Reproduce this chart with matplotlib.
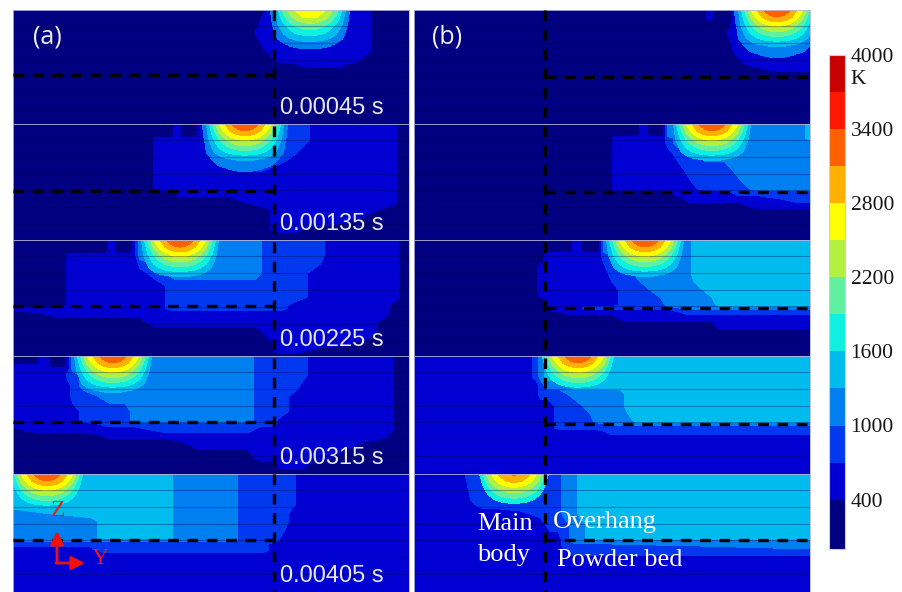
import numpy as np
import matplotlib
matplotlib.use('Agg')
import matplotlib.pyplot as plt
from matplotlib.colors import ListedColormap, BoundaryNorm

# temperature bands of the legend, K
levels = [0, 400, 700, 1000, 1300, 1600, 1900, 2200, 2500, 2800, 3100, 3400, 3700, 4000]
band_colors = ['#000080', '#0000d2', '#0038f0', '#0080f0', '#00bcee', '#10f0e0', '#60f0a0',
               '#b4f040', '#ffff00', '#ffb000', '#ff6000', '#ff1800', '#c80000']
tick_values = [400, 1000, 1600, 2200, 2800, 3400, 4000]
times = ['0.00045 s', '0.00135 s', '0.00225 s', '0.00315 s', '0.00405 s']

# representative temperature of the letters used in the field tables below
band_temp = {'N': 250, 'D': 550, 'B': 850, 'M': 1150, 'L': 1450}

# melt pool, half table: depth rows, distance from centre columns
pool_dx = [0, 7, 14, 20, 26, 32, 38, 44]
pool_dz = [0, 7, 14, 21, 28, 35, 42, 50]
pool_half = [[3390, 3300, 3100, 2800, 2500, 1950, 1350, 900],
             [3100, 3050, 2850, 2600, 2250, 1750, 1250, 850],
             [2650, 2600, 2450, 2250, 1950, 1600, 1200, 800],
             [2250, 2200, 2100, 1900, 1700, 1400, 1100, 700],
             [1800, 1780, 1700, 1600, 1450, 1250, 1050, 600],
             [1350, 1340, 1300, 1250, 1150, 1050, 800, 500],
             [1120, 1110, 1090, 1050, 1000, 850, 600, 400],
             [950, 940, 900, 800, 700, 550, 400, 300]]

a1_x = [13, 250, 260, 270, 280, 310, 340, 355, 366, 378, 409]
a1_z = [0, 23, 40, 50, 54, 62, 114]
a1_rows = ['NNNDDDDDDNN', 'NNDDDDDDDNN', 'NNNDDDDDDNN', 'NNNNDDDDNNN', 'NNNNNDDNNNN',
           'N' * 11, 'N' * 11]

a2_x = [13, 150, 156, 171, 175, 179, 183, 195, 199, 203, 209, 228, 260, 280, 295, 306, 314, 362, 392, 404, 409]
a2_z = [0, 11, 15, 25, 36, 44, 52, 66, 68, 78, 86, 100, 106, 111, 116]
a2_rows = ['NNNNDDNNDDBBBBBBDDDNN', 'NNNNDDNNDDBBBBBBDDDNN', 'NNDDDDDDDDBBBBBBDDDNN',
           'NNDDDDDDDDBBBBBDDDDNN', 'NNDDDDDDDDDBBBDDDDDNN', 'NNDDDDDDDDDDBDDDDDDNN',
           'NNDDDDDDDDDDDDDDDDDNN', 'NNDDDDDDDDDDDDDDDDDNN', 'NNNNNDDDDDDDDDDDDDDNN',
           'NNNNNNNNNNNNDDDDDDDNN', 'NNNNNNNNNNNNNDDDDDNNN', 'NNNNNNNNNNNNNDDDDNNNN',
           'NNNNNNNNNNNNNDDNNNNNN', 'N' * 21, 'N' * 21]

a3_x = [13, 62, 70, 105, 109, 113, 117, 130, 134, 140, 155, 175, 225, 255, 268, 280, 295, 320, 330, 370, 385, 395, 402, 409]
a3_z = [0, 11, 15, 33, 45, 57, 65, 68, 72, 82, 90, 103, 110, 115]
a3_rows = ['NNNNDDNNDMMMMMBBBBDDDDNN', 'NNNNDDNNDMMMMMBBBBDDDDNN',
           'NN' + 'D' * 7 + 'M' * 5 + 'B' * 4 + 'D' * 4 + 'NN',
           'NN' + 'D' * 8 + 'B' + 'MMM' + 'BBB' + 'D' * 5 + 'NN',
           'NN' + 'D' * 9 + 'B' * 6 + 'D' * 5 + 'NN',
           'NN' + 'D' * 9 + 'B' * 6 + 'D' * 5 + 'NN',
           'NN' + 'D' * 9 + 'B' * 5 + 'D' * 5 + 'NNN',
           'D' * 11 + 'B' * 5 + 'D' * 5 + 'NNN',
           'N' + 'D' * 20 + 'NNN',
           'N' * 10 + 'D' * 10 + 'N' * 4,
           'N' * 14 + 'D' * 6 + 'N' * 4,
           'N' * 15 + 'D' * 4 + 'N' * 5,
           'N' * 15 + 'D' * 2 + 'N' * 7,
           'N' * 24]

a4_x = [13, 36, 40, 48, 52, 64, 68, 73, 85, 110, 125, 135, 165, 200, 248, 260, 272, 282, 296, 303, 312, 345, 385, 391, 396, 409]
a4_z = [0, 7, 10, 13, 19, 30, 40, 55, 65, 68, 74, 79, 86, 102, 109, 118]
a4_rows = ['NNDDNNDMMMMMMMMBBBBBDDDDNN', 'NNDDNNDMMMMMMMMBBBBBDDDDNN', 'DDDDNNDMMMMMMMMBBBBBDDDDNN',
           'DDDDDDDMMMMMMMMBBBBBDDDDNN',
           'DDDDDDBB' + 'M' * 7 + 'BBBBB' + 'DDDD' + 'NN',
           'DDDDDDD' + 'B' + 'M' * 7 + 'BBBB' + 'DDDDD' + 'NN',
           'DDDDDDD' + 'BB' + 'M' * 6 + 'BBB' + 'D' * 6 + 'NN',
           'D' * 8 + 'BBB' + 'MMMM' + 'BBB' + 'D' * 6 + 'NN',
           'D' * 8 + 'BBB' + 'MMMM' + 'BB' + 'D' * 7 + 'NN',
           'D' * 9 + 'B' * 8 + 'D' * 7 + 'NN',
           'N' + 'D' * 11 + 'BBB' + 'D' * 9 + 'NN',
           'N' * 9 + 'D' * 14 + 'NNN',
           'N' * 13 + 'D' * 9 + 'N' * 4,
           'N' * 15 + 'D' * 6 + 'N' * 5,
           'N' * 17 + 'DDD' + 'N' * 6,
           'N' * 26]

a5_x = [13, 90, 104, 133, 168, 178, 234, 242, 262, 275, 285, 292, 300, 409]
a5_z = [0, 30, 40, 47, 64, 66, 70, 76, 82, 118]
a5_rows = ['LLLLLMMBBBBBDD', 'LLLLLMMBBBBBDD', 'MLLLLMMBBBBDDD', 'MMLLLMMBBBBDDD', 'MMLLLMMBBBDDDD',
           'MMMMMMMBBBDDDD', 'BBBBBBBBBDDDDD', 'DDBBBBBBBDDDDD', 'D' * 14, 'D' * 14]

b1_x = [414, 705, 708, 712, 715, 725, 730, 735, 745, 775, 810]
b1_z = [0, 8, 11, 23, 38, 50, 58, 65, 114]
b1_rows = ['NNDDNNNDDDD', 'NNDDNNNDDDD', 'NNNNNNNDDDD', 'NNNNNNDDDDD', 'NNNNNNNDDDD', 'NNNNNNNNDDD',
           'NNNNNNNNNDD', 'N' * 11, 'N' * 11]

b2_x = [414, 608, 616, 636, 642, 646, 650, 662, 668, 678, 690, 705, 725, 740, 760, 800, 810]
b2_z = [0, 11, 14, 18, 30, 46, 65, 69, 75, 83, 86, 116]
b2_rows = ['NNNNDDNNMMMMMMMML', 'NNNNDDNNMMMMMMMML', 'NNDDDDDDBMMMMMMML', 'NNDDDDDDB' + 'M' * 8,
           'NN' + 'D' * 7 + 'BB' + 'M' * 6, 'NN' + 'D' * 8 + 'BBB' + 'MMMM', 'NN' + 'D' * 9 + 'BBB' + 'MMM',
           'N' * 9 + 'DDDD' + 'BBBB', 'N' * 10 + 'D' * 5 + 'BB', 'N' * 14 + 'DDD', 'N' * 17, 'N' * 17]

b3_x = [414, 534, 540, 543, 547, 570, 575, 580, 584, 598, 604, 612, 625, 640, 660, 670, 688, 694, 712, 720, 810]
b3_z = [0, 11, 14, 33, 50, 65, 68, 72, 78, 86, 93, 116]
b3_rows = ['NNNNNNDDNN' + 'M' * 7 + 'LLLL', 'NNNNNNDDNN' + 'M' * 7 + 'LLLL',
           'NNNN' + 'D' * 6 + 'B' + 'M' * 6 + 'LLLL', 'NN' + 'D' * 9 + 'BB' + 'MMMM' + 'LLLL',
           'NN' + 'D' * 10 + 'BB' + 'MMMM' + 'LLL', 'NNNN' + 'D' * 8 + 'BBB' + 'MMMM' + 'LL',
           'NNNN' + 'DDDD' + 'B' * 8 + 'M' * 5, 'N' * 5 + 'D' * 11 + 'B' * 5,
           'N' * 12 + 'D' * 9, 'N' * 19 + 'DD', 'N' * 21, 'N' * 21]

b4_x = [414, 528, 536, 541, 548, 560, 575, 590, 596, 610, 620, 628, 638, 810]
b4_z = [0, 20, 30, 38, 50, 65, 68, 72, 75, 82, 118]
b4_rows = ['DDBM' + 'L' * 10, 'DDBM' + 'L' * 10, 'DDDBMM' + 'L' * 8, 'DDD' + 'BBB' + 'M' * 5 + 'LLL',
           'D' * 5 + 'BB' + 'MMMM' + 'LLL', 'D' * 5 + 'BBB' + 'MMMM' + 'LL', 'D' * 5 + 'BBBB' + 'M' * 5,
           'D' * 5 + 'B' * 9, 'D' * 9 + 'B' * 5, 'D' * 14, 'D' * 14]

b5_x = [414, 462, 468, 474, 484, 500, 540, 550, 558, 564, 574, 580, 590, 810]
b5_z = [0, 27, 33, 37, 50, 65, 67, 72, 78, 86, 118]
b5_rows = ['DD' + 'B' * 7 + 'MM' + 'LLL', 'DDD' + 'B' * 6 + 'MM' + 'LLL', 'DDDD' + 'B' * 5 + 'MM' + 'LLL',
           'D' * 6 + 'BBB' + 'MM' + 'LLL', 'D' * 7 + 'BBB' + 'MM' + 'LL', 'D' * 9 + 'B' + 'MM' + 'LL',
           'D' * 9 + 'B' + 'MMMM', 'D' * 9 + 'BBBB' + 'M', 'D' * 10 + 'BBBB', 'D' * 14, 'D' * 14]

fields_a = [(a1_x, a1_z, a1_rows), (a2_x, a2_z, a2_rows), (a3_x, a3_z, a3_rows), (a4_x, a4_z, a4_rows), (a5_x, a5_z, a5_rows)]
fields_b = [(b1_x, b1_z, b1_rows), (b2_x, b2_z, b2_rows), (b3_x, b3_z, b3_rows), (b4_x, b4_z, b4_rows), (b5_x, b5_z, b5_rows)]

pool_center_a = [310, 245, 180, 113, 47]
pool_center_b = [777, 712, 645, 578, 514]
pool_scale_a = [0.82, 1.0, 1.0, 1.0, 1.0]
pool_scale_b = [1.0, 1.0, 1.0, 1.0, 0.93]
pool_floor_a = [1000, 1000, 1300, 1300, 1600]
pool_floor_b = [1000, 1300, 1300, 1600, 1600]

row_top = [10, 124, 240, 356, 474]
row_bottom = [124, 240, 356, 474, 592]
layer_depth = [16, 33, 50, 66, 83, 100]
dash_a = [75, 191, 306, 422, 540]
dash_b = [77, 192, 308, 424, 540]

W, H = 902, 592


def pixel_axes(x0, y0, x1, y1):
    return fig.add_axes([x0 / W, 1 - y1 / H, (x1 - x0) / W, (y1 - y0) / H])


def draw_panel(ax, field, center, scale, floor):
    xs, zs, rows = field
    temp = np.array([[band_temp[c] for c in row] for row in rows], dtype=float)
    ax.contourf(xs, zs, temp, levels=levels, colors=band_colors)
    half = np.array(pool_half, dtype=float)
    table = np.hstack([half[:, :0:-1], half]) * scale
    dx = np.array([-d for d in pool_dx[:0:-1]] + pool_dx)
    start = levels.index(floor)
    ax.contourf(center + dx, pool_dz, table, levels=levels[start:], colors=band_colors[start:])
    for d in layer_depth:
        ax.axhline(d, color='#000050', alpha=0.35, lw=0.8)
    ax.set_xlim(xs[0], xs[-1])
    ax.set_ylim(zs[-1], 0)
    ax.set_xticks([])
    ax.set_yticks([])
    for s in ax.spines.values():
        s.set_color('#b8b8d8')
        s.set_linewidth(0.6)


fig = plt.figure(figsize=(W / 100, H / 100), dpi=100, facecolor='white')

for i in range(5):
    ax = pixel_axes(13, row_top[i], 409, row_bottom[i])
    draw_panel(ax, fields_a[i], pool_center_a[i], pool_scale_a[i], pool_floor_a[i])
    ax = pixel_axes(414, row_top[i], 810, row_bottom[i])
    draw_panel(ax, fields_b[i], pool_center_b[i], pool_scale_b[i], pool_floor_b[i])

# colour bar
cax = pixel_axes(829, 55, 845, 549)
cmap = ListedColormap(band_colors)
cax.pcolormesh([0, 1], levels, np.arange(13).reshape(-1, 1), cmap=cmap,
               norm=BoundaryNorm(np.arange(14) - 0.5, 13))
cax.set_xticks([])
cax.yaxis.tick_right()
cax.set_yticks(tick_values)
cax.set_yticklabels([str(v) for v in tick_values], family='Liberation Serif', fontsize=15.5, color='#151515')
cax.tick_params(axis='y', length=0, pad=4)
for s in cax.spines.values():
    s.set_color('#c8d0d8')
    s.set_linewidth(0.8)

# everything written over the panels, in pixel coordinates
over = fig.add_axes([0, 0, 1, 1])
over.set_xlim(0, W)
over.set_ylim(H, 0)
over.axis('off')
over.patch.set_alpha(0)

dash = (0, (3.2, 2.6))
for x0, x1, x_v, ys in [(13, 274, 274, dash_a), (545, 810, 545, dash_b)]:
    over.plot([x_v, x_v], [10, 592], color='black', lw=2.4, linestyle=dash)
    for y in ys:
        over.plot([x0, x1], [y, y], color='black', lw=2.4, linestyle=dash)

for i, t in enumerate(times):
    over.text(280, row_bottom[i] - 16, t, color='#e8e8f4', fontsize=17, family='Liberation Sans',
              ha='left', va='center')

over.text(33, 37, '(a)', color='#f0f0f0', fontsize=18, family='Open Sans', ha='left', va='center')
over.text(432, 37, '(b)', color='#f0f0f0', fontsize=18, family='Open Sans', ha='left', va='center')
over.text(850, 79, 'K', color='#151515', fontsize=15.5, family='Liberation Serif', ha='left', va='center')

for x, y, s in [(477, 524, 'Main'), (477, 555, 'body'), (553, 522, 'Overhang'), (557, 560, 'Powder bed')]:
    over.text(x, y, s, color='white', fontsize=19, family='Liberation Serif', ha='left', va='center')

over.text(58, 511, 'Z', color='#f01818', fontsize=17, family='Liberation Serif', ha='center', va='center')
over.text(100, 558, 'Y', color='#f01818', fontsize=17, family='Liberation Serif', ha='center', va='center')
arrow = dict(arrowstyle='-|>', color='#f01010', lw=2, mutation_scale=20, shrinkA=0, shrinkB=0)
over.annotate('', xy=(57, 531), xytext=(57, 563), arrowprops=arrow)
over.annotate('', xy=(85, 563), xytext=(56, 563), arrowprops=arrow)

fig.savefig('out.png', dpi=100)
